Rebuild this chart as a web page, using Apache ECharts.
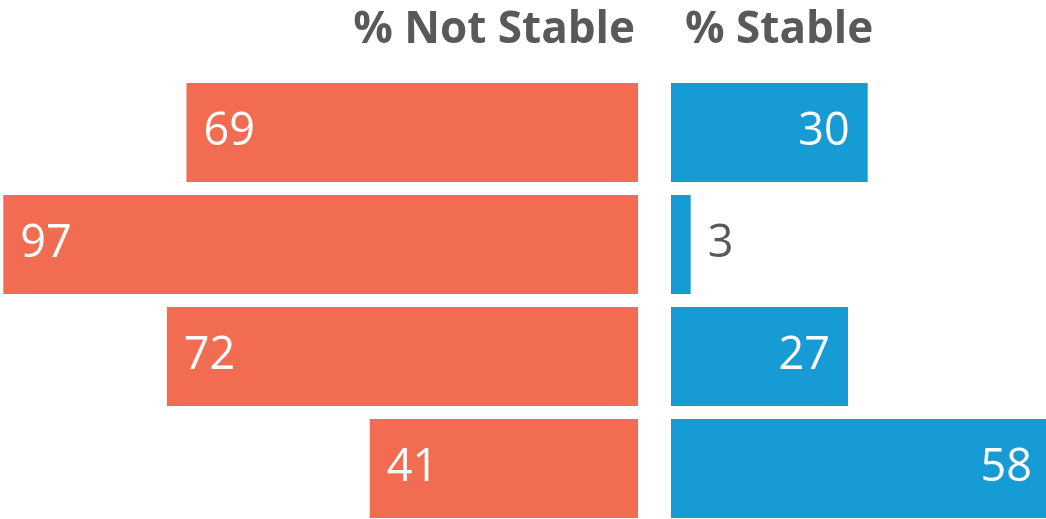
<!DOCTYPE html>
<html>
<head>
<meta charset="utf-8">
<script src="https://cdn.jsdelivr.net/npm/echarts@6/dist/echarts.min.js"></script>
<style>
  html, body { margin: 0; padding: 0; background: #fff; }
  #chart { width: 1046px; height: 519px; }
</style>
</head>
<body>
<div id="chart"></div>
<script>
// data
const rows = ['A', 'B', 'C', 'D']
const notStable = [69, 97, 72, 41]
const stable = [30, 3, 27, 58]
const titles = ['% Not Stable', '% Stable']

const chart = echarts.init(document.getElementById('chart'))

const orange = '#f16c50'
const blue = '#179bd4'
const grey = '#58595b'
const font = 'Open Sans'

// category axis without boundary gap: row centres sit on the grid edges
const catAxis = idx => ({
  gridIndex: idx, type: 'category', data: rows, inverse: true,
  boundaryGap: false, show: false
})

const option = {
  animation: false,
  title: [
    {
      text: titles[0], right: 1046 - 640, top: 3,
      textStyle: { fontFamily: font, fontWeight: 'bold', fontSize: 44, color: grey }
    },
    {
      text: titles[1], left: 680, top: 3,
      textStyle: { fontFamily: font, fontWeight: 'bold', fontSize: 44, color: grey }
    }
  ],
  grid: [
    { left: 0, width: 638, top: 132.5, height: 336 },
    { left: 671, width: 375, top: 132.5, height: 336 }
  ],
  xAxis: [
    { gridIndex: 0, type: 'value', min: 0, max: 97.5, inverse: true, show: false },
    { gridIndex: 1, type: 'value', min: 0, max: 57.2, show: false }
  ],
  yAxis: [catAxis(0), catAxis(1)],
  series: [
    {
      type: 'bar', xAxisIndex: 0, yAxisIndex: 0, data: notStable,
      barWidth: 99, itemStyle: { color: orange },
      label: {
        show: true, position: 'insideLeft', distance: 17,
        color: '#fff', fontFamily: font, fontSize: 45
      }
    },
    {
      type: 'bar', xAxisIndex: 1, yAxisIndex: 1,
      data: stable.map(v => ({
        value: v,
        label: v < 8
          ? { position: 'right', color: grey, distance: 17 }
          : { position: 'insideRight', color: '#fff', distance: v > 57 ? 14 : 18 }
      })),
      barWidth: 99, itemStyle: { color: blue },
      label: { show: true, fontFamily: font, fontSize: 45 }
    }
  ]
}

chart.setOption(option)
</script>
</body>
</html>
